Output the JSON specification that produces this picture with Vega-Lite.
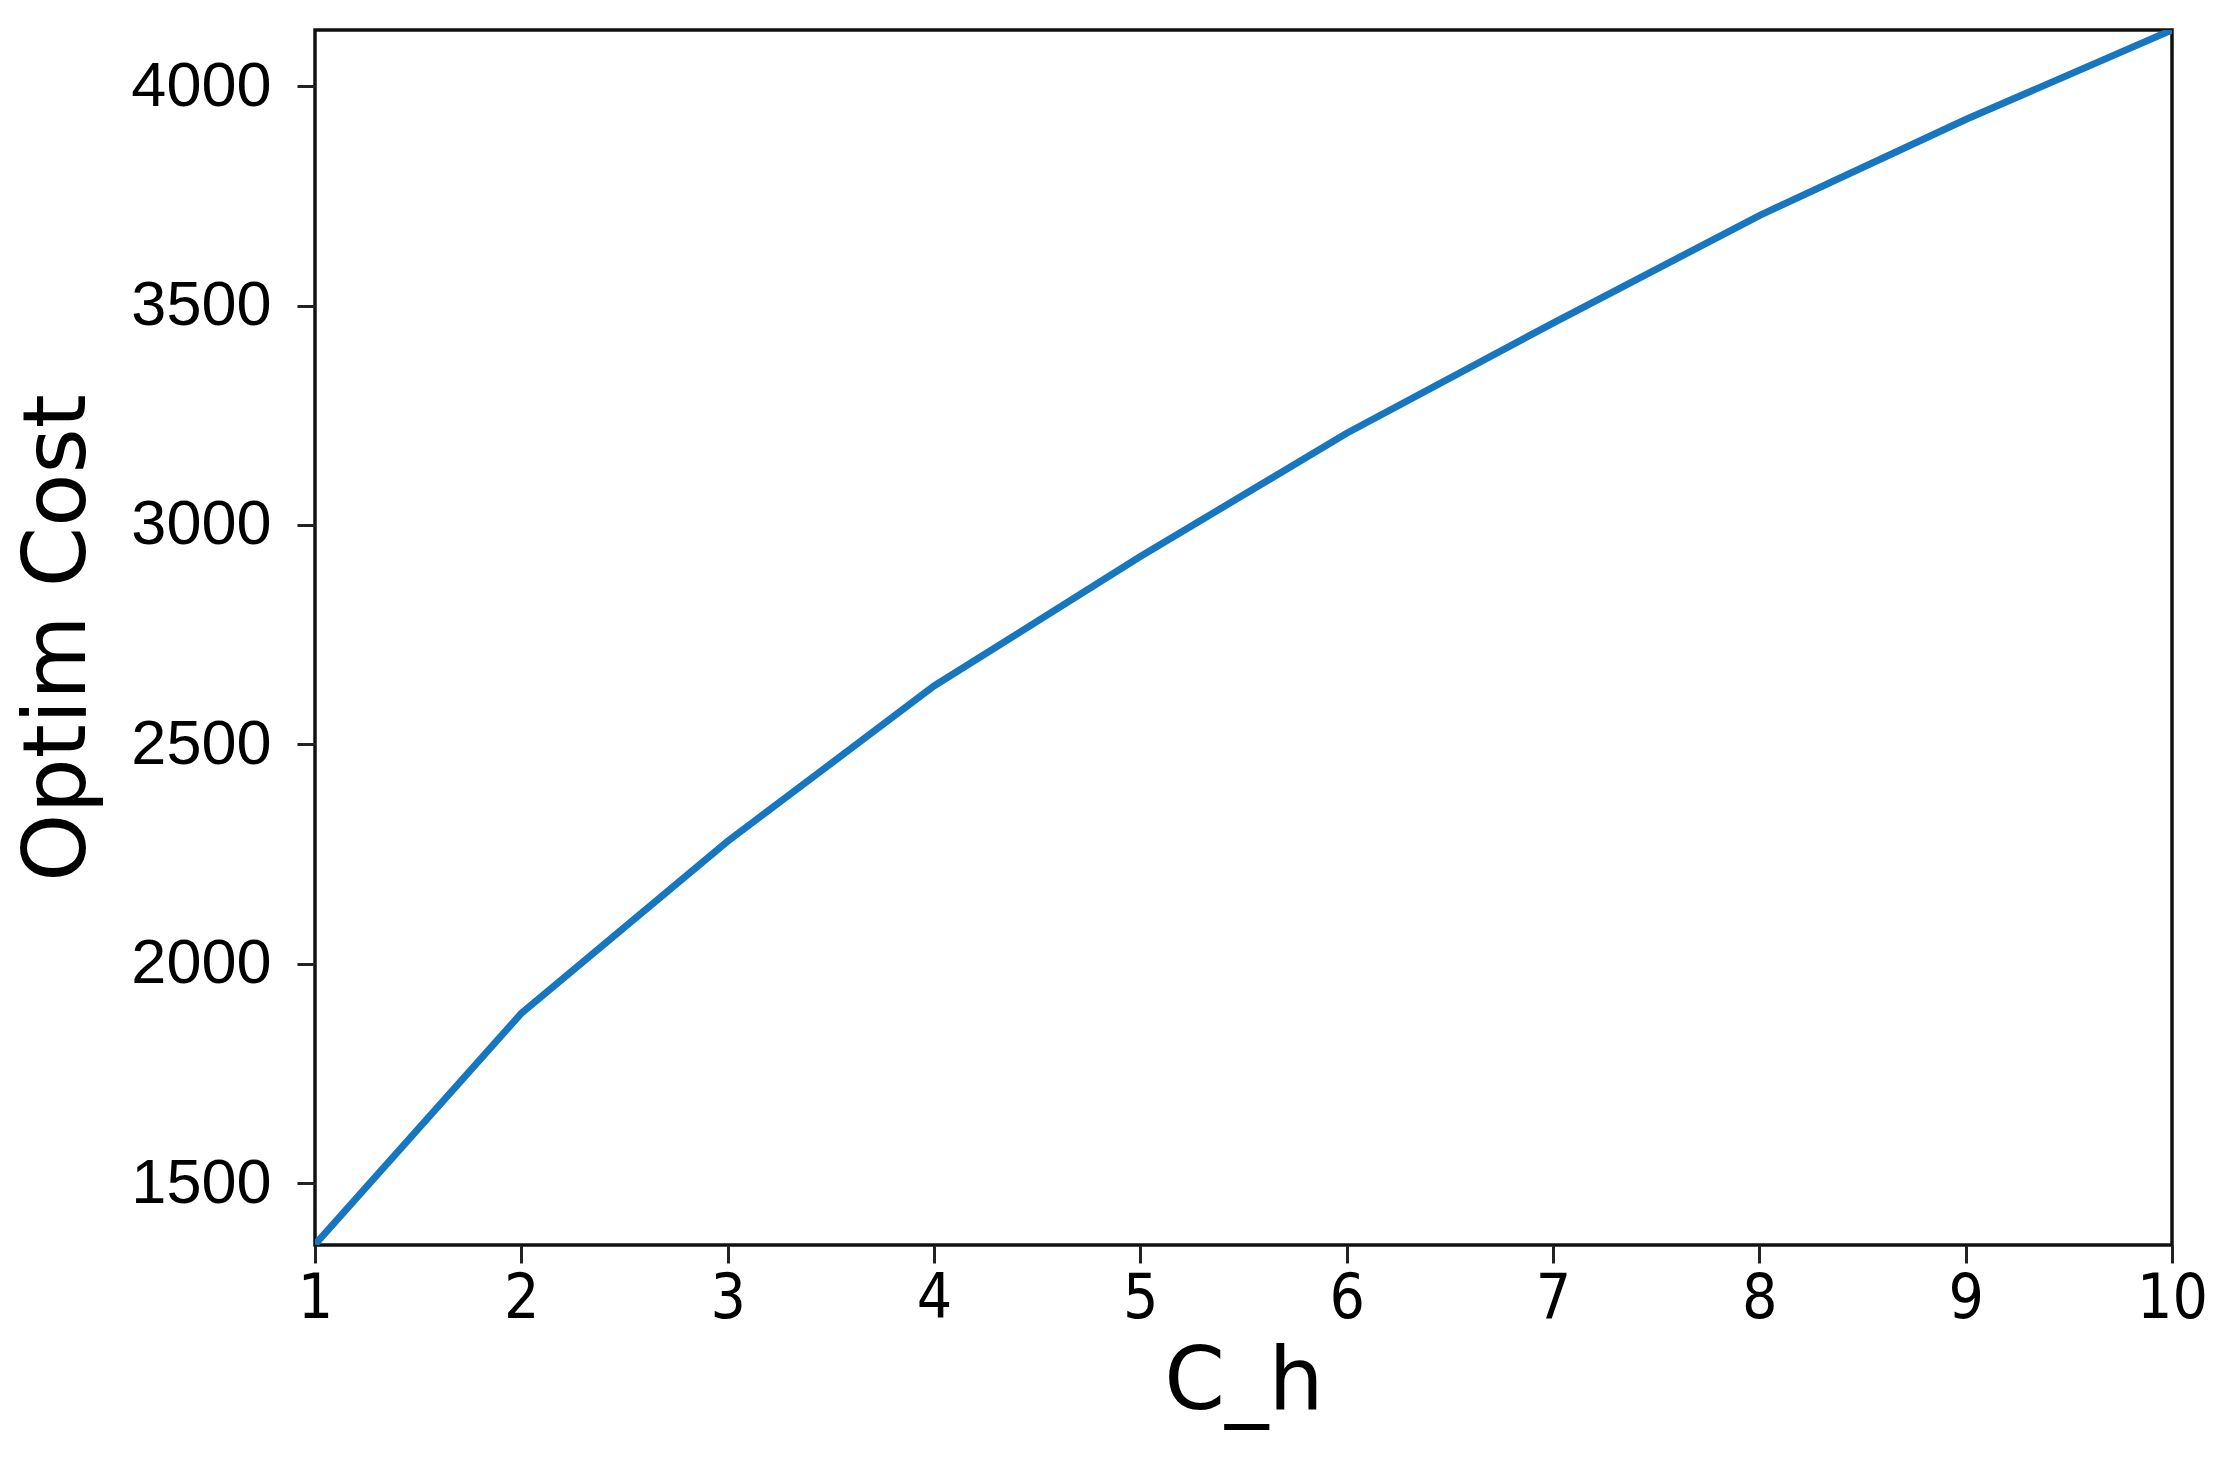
{
  "$schema": "https://vega.github.io/schema/vega-lite/v6.json",
  "autosize": {"type": "none"},
  "width": 1857,
  "height": 1215,
  "padding": {"left": 315, "top": 30, "right": 59, "bottom": 225},
  "background": "white",
  "config": {
    "view": {"stroke": "#111", "strokeWidth": 3.5},
    "axis": {"grid": false, "domain": false, "tickColor": "#222", "tickWidth": 3, "tickSize": 18, "labelColor": "#000", "titleColor": "#000", "titleFontWeight": "normal", "titleFont": "DejaVu Sans", "titleFontSize": 87}
  },
  "data": {
    "values": [
      {"C_h": 1, "cost": 1360},
      {"C_h": 2, "cost": 1887},
      {"C_h": 3, "cost": 2279},
      {"C_h": 4, "cost": 2633},
      {"C_h": 5, "cost": 2928},
      {"C_h": 6, "cost": 3209},
      {"C_h": 7, "cost": 3460},
      {"C_h": 8, "cost": 3705},
      {"C_h": 9, "cost": 3924},
      {"C_h": 10, "cost": 4128}
    ]
  },
  "mark": {"type": "line", "color": "#1776c0", "strokeWidth": 7, "clip": true},
  "encoding": {
    "x": {
      "field": "C_h", "type": "quantitative", "title": "C_h",
      "scale": {"domain": [1, 10], "nice": false, "zero": false},
      "axis": {"values": [1,2,3,4,5,6,7,8,9,10], "format": "d", "labelFont": "DejaVu Sans Condensed, DejaVu Sans", "labelFontSize": 62, "labelPadding": 5, "labelFlush": false, "titlePadding": 10}
    },
    "y": {
      "field": "cost", "type": "quantitative", "title": "Optim Cost",
      "scale": {"domain": [1359, 4128], "nice": false, "zero": false},
      "axis": {"values": [1500,2000,2500,3000,3500,4000], "format": "d", "labelFont": "Liberation Sans", "labelFontSize": 63, "labelPadding": 26, "labelFlush": false, "titlePadding": 28}
    }
  }
}
